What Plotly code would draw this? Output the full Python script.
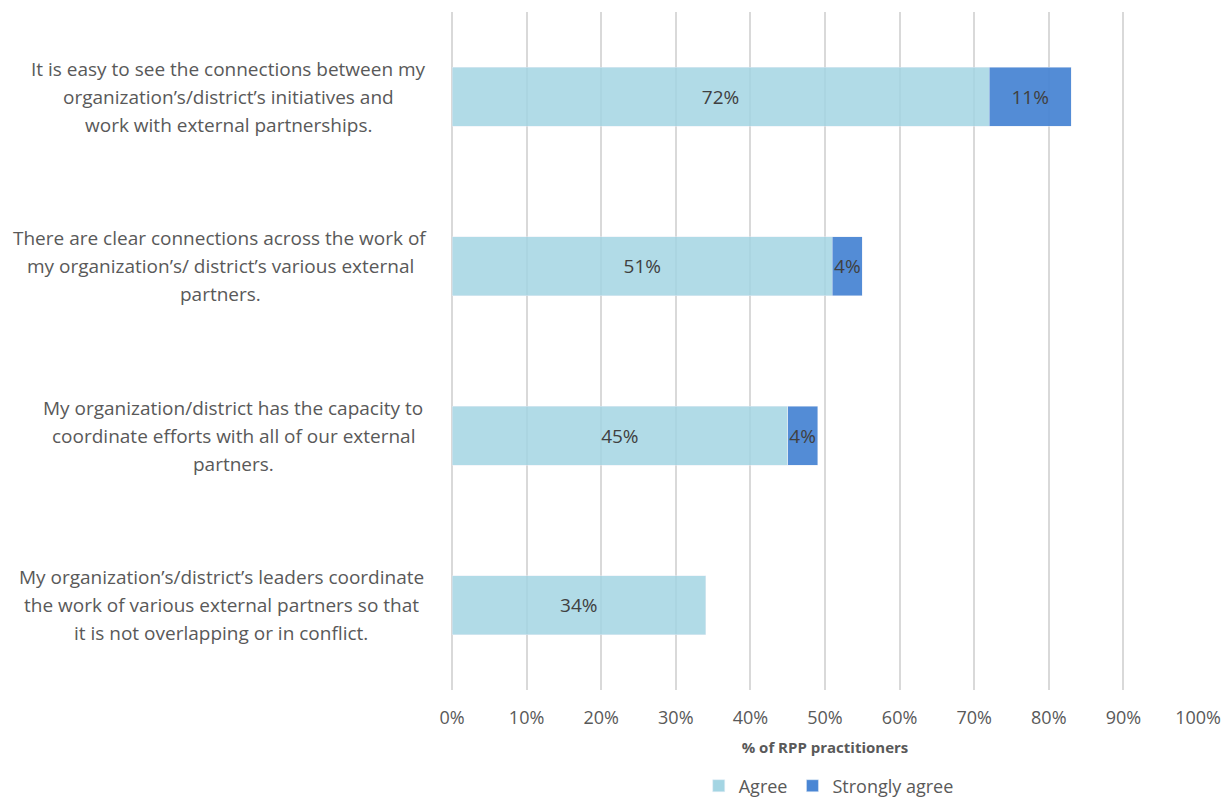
import plotly.graph_objects as go

# survey statements (one list of lines per bar, top to bottom)
statements = [
    ["It is easy to see the connections between my",
     "organization\u2019s/district\u2019s initiatives and",
     "work with external partnerships."],
    ["There are clear connections across the work of",
     "my organization\u2019s/ district\u2019s various external",
     "partners."],
    ["My organization/district has the capacity to",
     "coordinate efforts with all of our external",
     "partners."],
    ["My organization\u2019s/district\u2019s leaders coordinate",
     "the work of various external partners so that",
     "it is not overlapping or in conflict."],
]
categories = ["s1", "s2", "s3", "s4"]
agree = [72, 51, 45, 34]
strongly_agree = [11, 4, 4, None]
x_ticks = [0, 10, 20, 30, 40, 50, 60, 70, 80, 90, 100]

FONT = "Open Sans"
GREY = "#595959"

fig = go.Figure()
fig.add_trace(go.Bar(
    y=categories, x=agree, name="Agree", orientation="h",
    marker=dict(color="#A4D5E3", opacity=0.85),
    text=[f"{v}%" for v in agree], textposition="inside",
    insidetextanchor="middle", constraintext="none", textangle=0,
    textfont=dict(family=FONT, size=19, color="#404040"),
    width=0.35, hoverinfo="x+name",
))
fig.add_trace(go.Bar(
    y=categories, x=strongly_agree, name="Strongly agree", orientation="h",
    marker=dict(color="#4A86D4", opacity=0.95),
    text=[f"{v}%" if v else "" for v in strongly_agree], textposition="inside",
    insidetextanchor="middle", constraintext="none", textangle=0,
    textfont=dict(family=FONT, size=19, color="#404040"),
    width=0.35, hoverinfo="x+name",
))

# centred multi-line category labels, one annotation per line
label_centres = [228, 220, 233, 221]   # px from left edge of the window
plot_left, plot_w = 452, 746
for cat, lines, cx in zip(categories, statements, label_centres):
    for i, line in enumerate(lines):
        fig.add_annotation(
            x=(cx - plot_left) / plot_w, xref="paper", y=cat, yref="y",
            text=line, showarrow=False, xanchor="center", yanchor="middle",
            yshift=(1 - i) * 28,
            font=dict(family=FONT, size=19, color=GREY),
        )

# page body has an 8px margin, so the figure is 8px smaller than the window
fig.update_layout(
    barmode="stack",
    width=1223, height=790,
    margin=dict(l=444, r=33, t=4, b=108, autoexpand=False),
    plot_bgcolor="white", paper_bgcolor="white",
    font=dict(family=FONT, color=GREY),
    xaxis=dict(
        range=[0, 100], tickvals=x_ticks, ticktext=[f"{t}%" for t in x_ticks],
        showgrid=True, gridcolor="#D9D9D9", gridwidth=2,
        zeroline=True, zerolinecolor="#D9D9D9", zerolinewidth=2,
        showline=False, ticks="", ticklabelstandoff=15,
        tickfont=dict(family=FONT, size=18, color=GREY),
        title=dict(text="<b>% of RPP practitioners</b>", standoff=14,
                   font=dict(family=FONT, size=15, color=GREY)),
        fixedrange=True,
    ),
    yaxis=dict(
        autorange="reversed", showticklabels=False, showgrid=False,
        zeroline=False, fixedrange=True,
    ),
    legend=dict(
        orientation="h", x=0.505, xanchor="center", y=-0.1416, yanchor="middle",
        font=dict(family=FONT, size=18, color=GREY), traceorder="normal",
        itemwidth=30, tracegroupgap=0,
    ),
    showlegend=True,
)

fig.write_html("out.html")
